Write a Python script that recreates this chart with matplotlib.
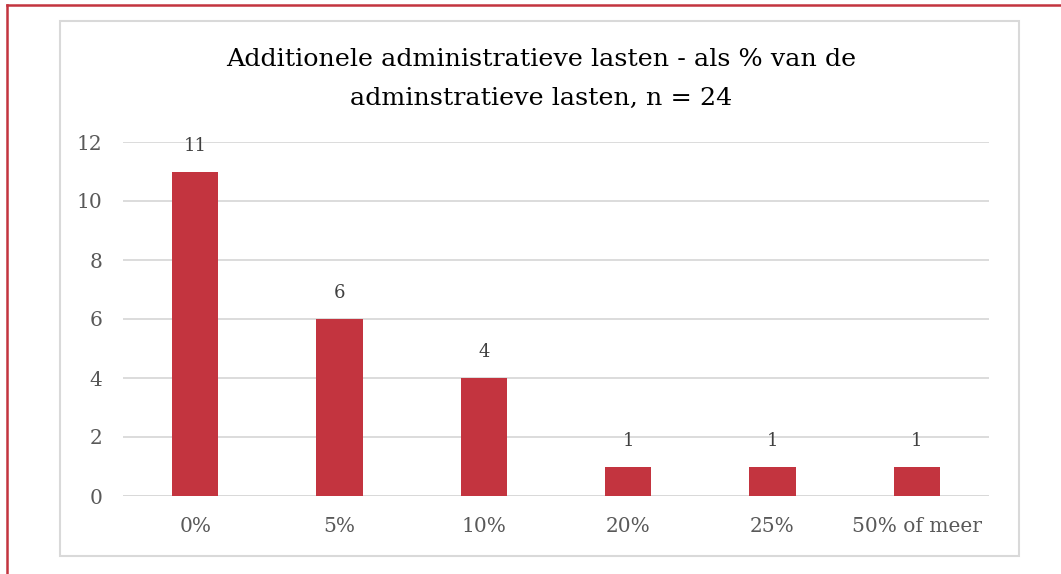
import matplotlib.pyplot as plt
from matplotlib.patches import Rectangle
from matplotlib.lines import Line2D

categories = ["0%", "5%", "10%", "20%", "25%", "50% of meer"]
counts = [11, 6, 4, 1, 1, 1]
yticks = [0, 2, 4, 6, 8, 10, 12]

bar_color = "#C3343F"
grid_color = "#D9D9D9"

plt.rcParams['font.family'] = ['DejaVu Serif']

W, H = 1061, 574
fig = plt.figure(figsize=(W / 100, H / 100), dpi=100)

# outer red frame (top and left visible only)
fig.add_artist(Line2D([7 / W, 1], [1 - 5 / H, 1 - 5 / H], color=bar_color, lw=1.8))
fig.add_artist(Line2D([7 / W, 7 / W], [0, 1 - 5 / H], color=bar_color, lw=1.8))

# chart box
fig.add_artist(Rectangle((60 / W, 1 - 556 / H), (1019 - 60) / W, (556 - 21) / H,
                         fill=False, edgecolor=grid_color, lw=1.5))

ax = fig.add_axes([123 / W, 1 - 496 / H, (989 - 123) / W, (496 - 142) / H])
x = range(len(categories))
bars = ax.bar(x, counts, width=0.32, color=bar_color, zorder=3)

ax.set_xlim(-0.5, len(categories) - 0.5)
ax.set_ylim(0, 12)
ax.set_yticks(yticks)
ax.set_xticks(list(x))
ax.set_xticklabels(categories)
ax.tick_params(axis='both', length=0, labelsize=14.5, labelcolor="#595959")
ax.tick_params(axis='y', pad=15)
ax.tick_params(axis='x', pad=15)
ax.yaxis.grid(True, color=grid_color, lw=1.3, zorder=0)
for s in ax.spines.values():
    s.set_visible(False)
ax.axhline(0, color=grid_color, lw=1.3, zorder=2)

for xi, v in zip(x, counts):
    ax.annotate(str(v), (xi, v), xytext=(0, 12), textcoords="offset points",
                ha="center", va="bottom", fontsize=13, color="#404040")

fig.text(541 / W, 1 - 60 / H, "Additionele administratieve lasten - als % van de",
         ha="center", va="center", fontsize=18.3, color="black")
fig.text(541 / W, 1 - 98 / H, "adminstratieve lasten, n = 24",
         ha="center", va="center", fontsize=18.3, color="black")

fig.savefig("out.png", dpi=100)
